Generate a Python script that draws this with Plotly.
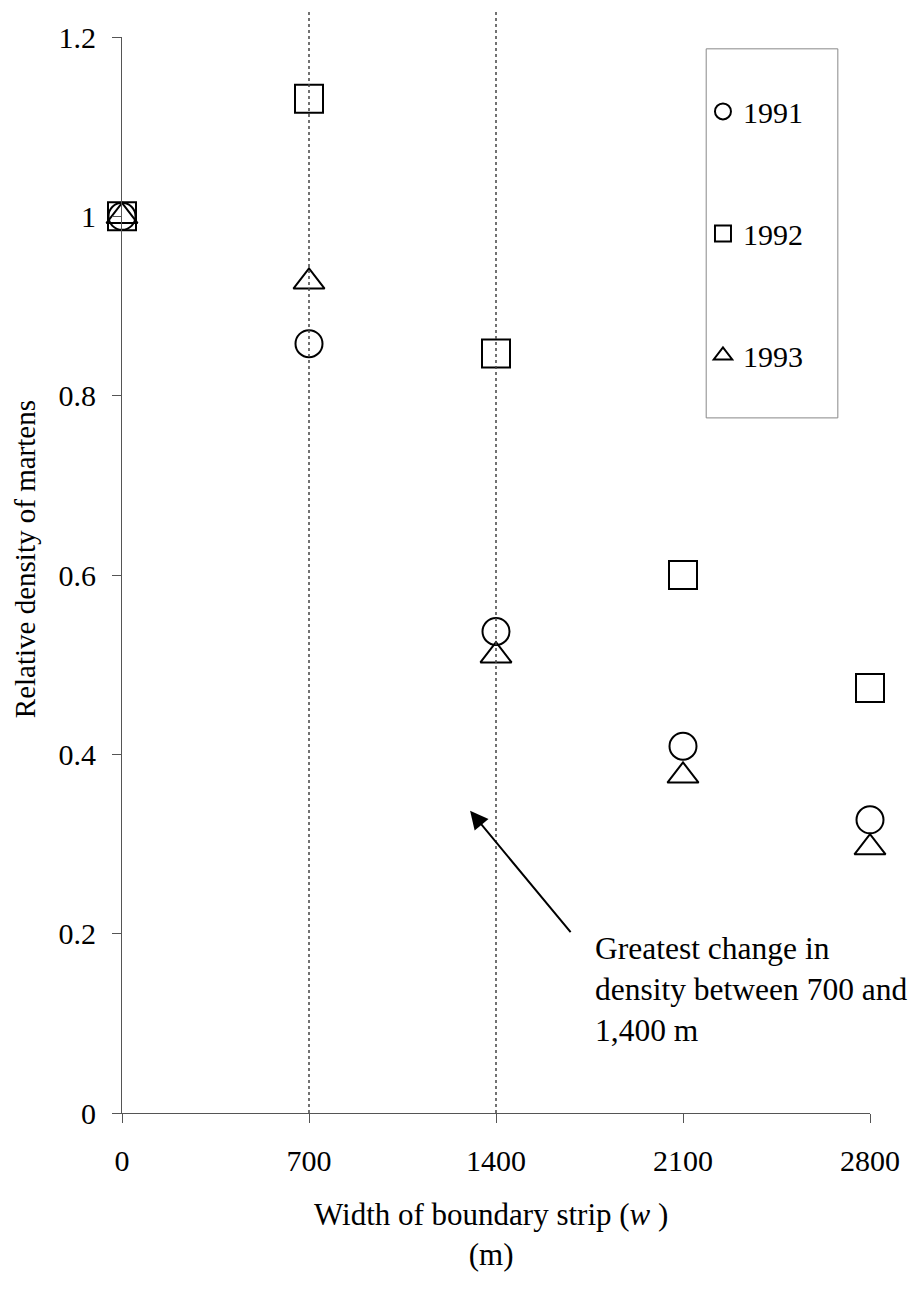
import plotly.graph_objects as go

# ---- data ----
widths = [0, 700, 1400, 2100, 2800]
density_1991 = [1.0, 0.858, 0.537, 0.409, 0.327]
density_1992 = [1.0, 1.131, 0.847, 0.600, 0.474]
density_1993 = [1.0, 0.927, 0.510, 0.376, 0.296]
years = ["1991", "1992", "1993"]
x_ticks = [0, 700, 1400, 2100, 2800]
y_ticks = [0, 0.2, 0.4, 0.6, 0.8, 1.0, 1.2]
y_ticktext = ["0", "0.2", "0.4", "0.6", "0.8", "1", "1.2"]
boundary_lines = [700, 1400]
arrow_head = (1303, 0.337)
arrow_tail = (1684, 0.200)
note_pos = (1763, 0.205)
note_text = "Greatest change in<br>density between 700 and<br>1,400 m"

FONT = "Liberation Serif"
series = [density_1991, density_1992, density_1993]
symbols = ["circle-open", "square-open", "triangle-up-open"]
sizes = [27, 28, 27]

fig = go.Figure()
for name, vals, sym, sz in zip(years, series, symbols, sizes):
    fig.add_trace(go.Scatter(
        x=widths, y=vals, mode="markers", name=name, legendgroup=name,
        marker=dict(symbol=sym, size=sz, color="black", line=dict(width=2, color="black")),
        cliponaxis=False,
    ))

shapes = []
for xv in boundary_lines:
    shapes.append(dict(type="line", xref="x", yref="paper", x0=xv, x1=xv, y0=0, y1=1.025,
                       line=dict(color="#444", width=1.5, dash="dot")))
# legend frame
shapes.append(dict(type="rect", xref="paper", yref="paper", x0=0.781, x1=0.957, y0=0.646, y1=0.989,
                   line=dict(color="#888", width=1), fillcolor="rgba(0,0,0,0)", layer="below"))

annotations = [
    dict(x=arrow_head[0], y=arrow_head[1], ax=arrow_tail[0], ay=arrow_tail[1],
         xref="x", yref="y", axref="x", ayref="y", text="", showarrow=True,
         arrowhead=2, arrowsize=1.8, arrowwidth=2, arrowcolor="black"),
    dict(x=note_pos[0], y=note_pos[1], xref="x", yref="y", text=note_text, showarrow=False,
         xanchor="left", yanchor="top", align="left",
         font=dict(family=FONT, size=31.5, color="black")),
    dict(x=0.493, y=-0.1133, xref="paper", yref="paper",
         text="Width of boundary strip (<i>w</i> )<br>(m)", showarrow=False,
         xanchor="center", yanchor="middle", align="center",
         font=dict(family=FONT, size=31, color="black")),
    dict(x=-0.1297, y=0.5147, xref="paper", yref="paper",
         text="Relative density of martens", showarrow=False, textangle=-90,
         xanchor="center", yanchor="middle",
         font=dict(family=FONT, size=29, color="black")),
]

# page body has an 8px default margin, so the figure is sized/offset to compensate
fig.update_layout(
    width=911, height=1283,
    margin=dict(l=114, r=49, t=19, b=178),
    plot_bgcolor="white", paper_bgcolor="white",
    font=dict(family=FONT, size=30, color="black"),
    shapes=shapes, annotations=annotations,
    showlegend=True,
    legend=dict(x=0.7767, y=0.955, xanchor="left", yanchor="top",
                bgcolor="rgba(0,0,0,0)", borderwidth=0,
                font=dict(family=FONT, size=30, color="black"),
                tracegroupgap=80),
    xaxis=dict(range=[0, 2800], tickvals=x_ticks, showgrid=False, zeroline=False,
               showline=True, linecolor="#555", linewidth=1,
               ticks="outside", ticklen=9, tickcolor="#555",
               tickfont=dict(family=FONT, size=30, color="black"), ticklabelstandoff=12),
    yaxis=dict(range=[0, 1.2], tickvals=y_ticks, ticktext=y_ticktext, showgrid=False, zeroline=False,
               showline=True, linecolor="#555", linewidth=1,
               ticks="outside", ticklen=9, tickcolor="#555",
               tickfont=dict(family=FONT, size=30, color="black"), ticklabelstandoff=10),
)

fig.write_html("out.html")
